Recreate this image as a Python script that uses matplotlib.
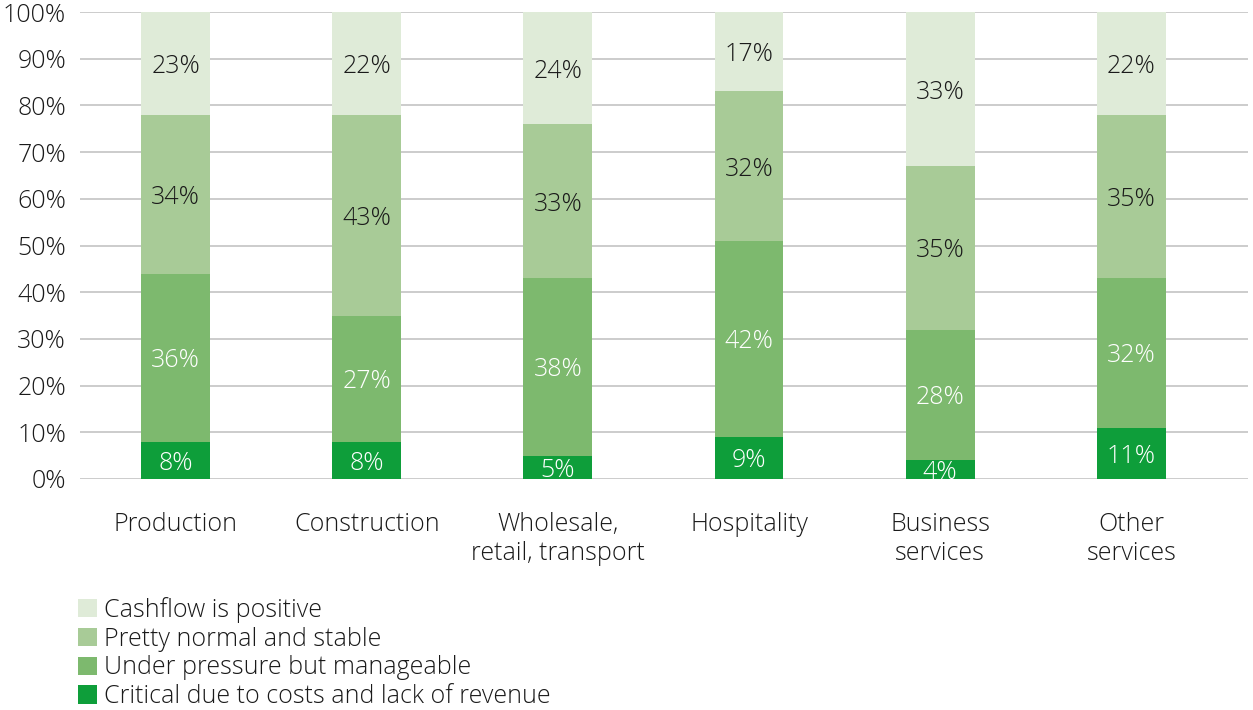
import matplotlib
matplotlib.use("Agg")
import matplotlib.pyplot as plt
import numpy as np

plt.rcParams['font.family'] = ['Open Sans', 'DejaVu Sans']

categories = ["Production", "Construction", "Wholesale,\nretail, transport",
              "Hospitality", "Business\nservices", "Other\nservices"]
critical = [8, 8, 5, 9, 4, 11]
pressure = [36, 27, 38, 42, 28, 32]
stable = [34, 43, 33, 32, 35, 35]
positive = [23, 22, 24, 17, 33, 22]
series_names = ["Critical due to costs and lack of revenue",
                "Under pressure but manageable",
                "Pretty normal and stable",
                "Cashflow is positive"]
yticks = [0, 10, 20, 30, 40, 50, 60, 70, 80, 90, 100]

colors = ["#0E9E3A", "#7DB96E", "#A8CB97", "#DFEBD8"]
text_colors = ["white", "white", "#1a1a1a", "#1a1a1a"]
FS = 18

W, H = 1253, 710
fig = plt.figure(figsize=(W / 100, H / 100), dpi=100)
ax = fig.add_axes([80 / W, (H - 479) / H, (1248 - 80) / W, (479 - 12) / H])

x = np.arange(len(categories))
bottom = np.zeros(len(categories))
handles = []
for vals, col, tcol, name in zip([critical, pressure, stable, positive],
                                 colors, text_colors, series_names):
    vals = np.array(vals, dtype=float)
    bars = ax.bar(x, vals, width=0.36, bottom=bottom, color=col, zorder=3,
                  label=name)
    handles.append(bars)
    for xi, b, v in zip(x, bottom, vals):
        top = min(b + v, 100)
        ax.text(xi, (b + top) / 2, f"{int(v)}%", ha="center",
                va="center_baseline", color=tcol, fontsize=FS,
                fontweight="light", zorder=4)
    bottom += vals

ax.set_xlim(-0.5, 5.61)
ax.set_ylim(0, 100)
ax.set_yticks(yticks)
ax.set_yticklabels([f"{t}%" for t in yticks], fontsize=FS, color="#1a1a1a",
                   fontweight="light")
ax.set_xticks(x)
ax.set_xticklabels(categories, fontsize=FS, color="#1a1a1a", linespacing=1.2,
                   fontweight="light")
ax.tick_params(axis="both", length=0)
ax.tick_params(axis="y", pad=10)
ax.tick_params(axis="x", pad=24)
ax.grid(axis="y", color="#C8C8C8", linewidth=1.3, zorder=0)
for s in ax.spines.values():
    s.set_visible(False)

fig.legend(handles[::-1], series_names[::-1], loc="upper left",
           bbox_to_anchor=(78 / W, 1 - 597 / H), frameon=False,
           prop={"size": FS, "weight": "light"}, handlelength=0.75,
           handleheight=0.75, handletextpad=0.3, labelspacing=0.15,
           borderpad=0, borderaxespad=0, labelcolor="#1a1a1a")

fig.savefig("out.png", dpi=100)
